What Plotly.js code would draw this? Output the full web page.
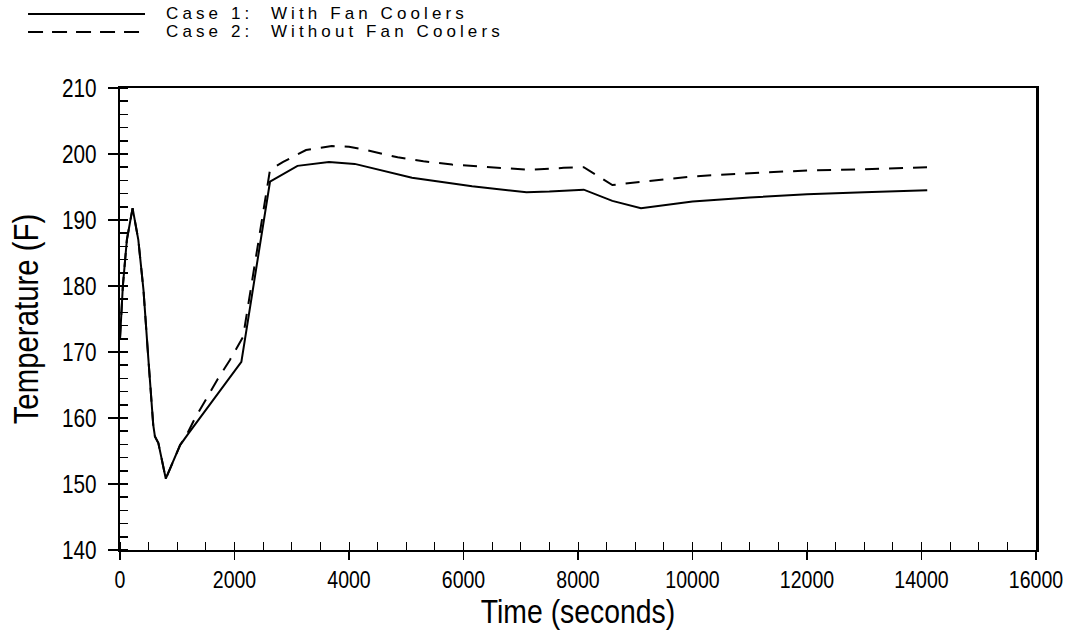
<!DOCTYPE html>
<html>
<head>
<meta charset="utf-8">
<script src="https://cdn.plot.ly/plotly-3.0.1.min.js"></script>
<style>
  html, body { margin: 0; padding: 0; background: #fff; }
  #chart { width: 1069px; height: 630px; }
  .annotation-text { letter-spacing: 4.1px; }
</style>
</head>
<body>
<div id="chart"></div>
<script>
// Case 1: With Fan Coolers
const case1Time = [0, 50, 120, 220, 320, 410, 495, 580, 610, 670, 800, 1050, 1200, 1900, 2120, 2620, 3100, 3650, 4100, 5100, 6150, 7100, 7500, 8100, 8600, 9100, 10000, 11000, 12000, 13000, 14100];
const case1Temp = [172, 180, 187, 191.8, 187, 179.4, 169, 159, 157.2, 156.2, 150.8, 155.9, 157.7, 166, 168.5, 195.8, 198.2, 198.8, 198.5, 196.4, 195.1, 194.2, 194.3, 194.6, 192.9, 191.8, 192.8, 193.4, 193.9, 194.2, 194.5];

// Case 2: Without Fan Coolers
const case2Time = [0, 50, 120, 220, 320, 410, 495, 580, 610, 670, 800, 1050, 1150, 1300, 1700, 1920, 2150, 2620, 2850, 3250, 3700, 4000, 4250, 4850, 5300, 5800, 6300, 6900, 7150, 7750, 8100, 8600, 9000, 10000, 11000, 12000, 13000, 14100];
const case2Temp = [172, 180, 187, 191.8, 187, 179.4, 169, 159, 157.2, 156.2, 150.8, 155.9, 157.2, 159.8, 165.8, 168.8, 172.3, 197.6, 198.8, 200.6, 201.2, 201.1, 200.7, 199.5, 198.9, 198.4, 198.1, 197.7, 197.6, 197.9, 198.0, 195.3, 195.7, 196.6, 197.1, 197.5, 197.7, 198.0];

const legendLabels = ["Case 1:  With Fan Coolers", "Case 2:  Without Fan Coolers"];
const xTitle = "Time (seconds)";
const yTitle = "Temperature (F)";

const sans = "'Liberation Sans', Arial, sans-serif";

const traces = [
  { x: case2Time, y: case2Temp, type: 'scatter', mode: 'lines', name: legendLabels[1],
    line: { color: '#000', width: 2, dash: '14px,10px' } },
  { x: case1Time, y: case1Temp, type: 'scatter', mode: 'lines', name: legendLabels[0],
    line: { color: '#000', width: 2 } }
];

const layout = {
  width: 1069, height: 630,
  paper_bgcolor: '#fff', plot_bgcolor: '#fff',
  showlegend: false,
  margin: { l: 120, r: 33, t: 88, b: 80 },
  font: { family: sans, color: '#000' },
  xaxis: {
    range: [0, 16000], dtick: 2000, tick0: 0, tickformat: 'd', ticklabeloverflow: 'allow',
    showgrid: false, zeroline: false,
    showline: true, linecolor: '#000', linewidth: 2, mirror: true,
    ticks: 'outside', ticklen: 8, tickwidth: 1.5, tickcolor: '#000',
    tickfont: { family: sans, size: 23, color: '#000' },
    minor: { dtick: 500, ticks: 'inside', ticklen: 8, tickwidth: 1, tickcolor: '#000', showgrid: false },
    title: { text: xTitle, font: { family: sans, size: 33, color: '#000' }, standoff: 0 }
  },
  yaxis: {
    range: [140, 210], dtick: 10, tick0: 140, ticklabeloverflow: 'allow',
    showgrid: false, zeroline: false,
    showline: true, linecolor: '#000', linewidth: 2.5, mirror: true,
    ticks: 'outside', ticklen: 10, tickwidth: 1.5, tickcolor: '#000', ticklabelstandoff: 6,
    tickfont: { family: sans, size: 25, color: '#000' },
    minor: { dtick: 2, ticks: 'inside', ticklen: 8, tickwidth: 1.5, tickcolor: '#000', showgrid: false },
    title: { text: yTitle, font: { family: sans, size: 35, color: '#000' }, standoff: 6 }
  },
  shapes: [
    { type: 'line', xref: 'paper', yref: 'paper', x0: -0.1004, x1: 0.0273, y0: 1.160, y1: 1.160,
      line: { color: '#000', width: 2 } },
    { type: 'line', xref: 'paper', yref: 'paper', x0: -0.1004, x1: 0.0273, y0: 1.121, y1: 1.121,
      line: { color: '#000', width: 2, dash: '15px,9px' } }
  ],
  annotations: [
    { xref: 'paper', yref: 'paper', x: 0.0480, y: 1.162, xanchor: 'left', yanchor: 'middle',
      text: legendLabels[0], showarrow: false,
      font: { family: sans, size: 17, color: '#000' } },
    { xref: 'paper', yref: 'paper', x: 0.0480, y: 1.123, xanchor: 'left', yanchor: 'middle',
      text: legendLabels[1], showarrow: false,
      font: { family: sans, size: 17, color: '#000' } }
  ]
};

// narrow the axis text horizontally (the original uses a condensed face)
function condense(gd) {
  const jobs = [
    ['.xtick text', 0.85, 'cx'],
    ['.ytick text', 0.83, 'right'],
    ['.g-xtitle text', 0.86, 'cx'],
    ['.g-ytitle text', 0.84, 'cy']
  ];
  jobs.forEach(([sel, f, mode]) => {
    gd.querySelectorAll(sel).forEach(t => {
      const g = document.createElementNS('http://www.w3.org/2000/svg', 'g');
      t.parentNode.insertBefore(g, t);
      g.appendChild(t);
      const bb = g.getBBox();
      let tr;
      if (mode === 'cx') {
        const c = bb.x + bb.width / 2;
        tr = `translate(${c},0) scale(${f},1) translate(${-c},0)`;
      } else if (mode === 'right') {
        const c = bb.x + bb.width;
        tr = `translate(${c},0) scale(${f},1) translate(${-c},0)`;
      } else {
        const c = bb.y + bb.height / 2;
        tr = `translate(0,${c}) scale(1,${f}) translate(0,${-c})`;
      }
      g.setAttribute('transform', tr);
    });
  });
}

Plotly.newPlot('chart', traces, layout, { displayModeBar: false, staticPlot: true }).then(condense);
</script>
</body>
</html>
